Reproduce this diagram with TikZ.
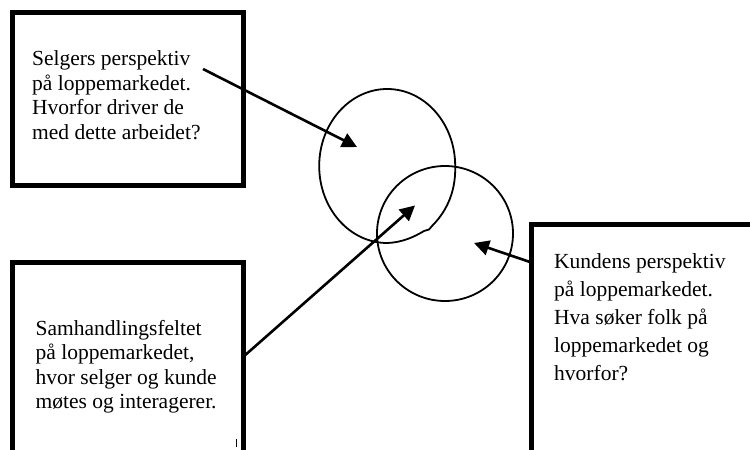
\documentclass[tikz,border=0pt]{standalone}
\usepackage{fontspec}
\setmainfont{Liberation Serif}
\usetikzlibrary{arrows.meta,shapes.geometric}
\begin{document}
\begin{tikzpicture}[x=1pt,y=-1pt,
  box/.style={draw,rectangle,line width=5pt,inner sep=0pt},
  ring/.style={ellipse,inner sep=0pt},
  rim/.style={draw,line width=1.8pt},
  label/.style={anchor=base west,align=left,inner sep=0pt},
  arr/.style={line width=2.6pt,-{Triangle[length=15pt,width=15pt]}}]
% page
\fill[white] (0,0) rectangle (750,450);
\useasboundingbox (0,0) rectangle (750,450);

% three framed text boxes (the lower two run off the page)
\node[box,minimum width=231pt,minimum height=173pt] (b1) at (128,99) {};
\node[box,minimum width=230.5pt,minimum height=212.5pt] (b2) at (127.75,368.75) {};
\node[box,minimum width=248.5pt,minimum height=255.5pt] (b3) at (655.75,352.25) {};

% texts, placed by the baseline of their last line
\node[label,font=\fontsize{21.5}{24.5}\selectfont] (t1) at (32,139)
  {Selgers perspektiv\\på loppemarkedet.\\Hvorfor driver de\\med dette arbeidet?};
\node[label,font=\fontsize{21.5}{24.5}\selectfont] (t2) at (35.5,408.5)
  {Samhandlingsfeltet\\på loppemarkedet,\\hvor selger og kunde\\møtes og interagerer.};
\node[label,font=\fontsize{21.5}{28}\selectfont] (t3) at (554,380.5)
  {Kundens perspektiv\\på loppemarkedet.\\Hva søker folk på\\loppemarkedet og\\hvorfor?};

% the two overlapping circles
\node[ring,minimum width=136pt,minimum height=154pt] (c1) at (387,166) {};
\node[ring,rim,minimum width=136pt,minimum height=135pt] (c2) at (445,233.5) {};
% upper circle drawn by hand: its lower right quarter has a small kink
\draw[rim,line join=round] (c1.east)
  arc[start angle=0,end angle=270,x radius=68pt,y radius=77pt]
  .. controls (402,242.5) and (414,237) .. (424,231)
  -- (429,229.5) -- (432,226)
  .. controls (444,214) and (456,195) .. (c1.east);

% small stray mark
\coordinate (m1) at (236,439);
\coordinate (m2) at (236,447);
\draw[line width=0.9pt] (m1) -- (m2);

% arrows from each box into the circles
\coordinate (a1s) at (203,69);
\coordinate (a1e) at (357,147);
\coordinate (a2s) at (243,357);
\coordinate (a2e) at (415,205.5);
\coordinate (a3s) at (531.5,262.5);
\coordinate (a3e) at (474,243);
\draw[arr] (a1s) -- (a1e);
\draw[arr] (a2s) -- (a2e);
\draw[arr] (a3s) -- (a3e);
\end{tikzpicture}
\end{document}
